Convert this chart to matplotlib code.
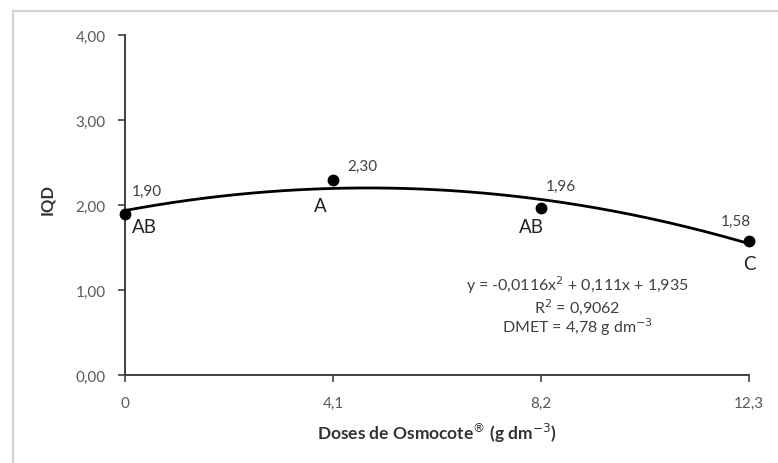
import matplotlib
matplotlib.use("Agg")
import matplotlib.pyplot as plt
import numpy as np
from matplotlib.patches import Rectangle

doses = [0, 4.1, 8.2, 12.3]
iqd = [1.90, 2.30, 1.96, 1.58]
value_labels = ["1,90", "2,30", "1,96", "1,58"]
letters = ["AB", "A", "AB", "C"]
coef = [-0.0116, 0.111, 1.935]
xtick_labels = ["0", "4,1", "8,2", "12,3"]
yticks = [0, 1, 2, 3, 4]
ytick_labels = ["0,00", "1,00", "2,00", "3,00", "4,00"]

plt.rcParams['font.family'] = ['Lato', 'DejaVu Sans']

fig = plt.figure(figsize=(7.78, 4.64), dpi=100)
W, H = 778, 464
fig.patches.append(Rectangle((13 / W, -0.05), 1.1, 1 - 12 / H + 0.05, transform=fig.transFigure,
                             fill=False, edgecolor='#d4d4d4', linewidth=1.6))
ax = fig.add_axes([125 / W, 1 - 376 / H, 624 / W, 340 / H])

xs = np.linspace(0, 12.3, 200)
ax.plot(xs, np.polyval(coef, xs), color='black', linewidth=2.0, zorder=2)
ax.plot(doses, iqd, 'o', color='black', markersize=7.5, zorder=3, clip_on=False)

gray = '#404040'
# value labels: (dx, dy) in pixels of label anchor (ha, va bottom)
val_off = [(7, 16, 'left'), (14, 7, 'left'), (5, 16, 'left'), (-13, 13, 'center')]
for x, y, t, (dx, dy, ha) in zip(doses, iqd, value_labels, val_off):
    ax.annotate(t, (x, y), xytext=(dx, dy), textcoords='offset pixels',
                fontsize=11, color=gray, ha=ha, va='bottom')
let_off = [(7, -5, 'left'), (-13, -18, 'center'), (-10, -10, 'center'), (0, -14, 'center')]
for x, y, t, (dx, dy, ha) in zip(doses, iqd, letters, let_off):
    ax.annotate(t, (x, y), xytext=(dx, dy), textcoords='offset pixels',
                fontsize=13.5, color='#222222', ha=ha, va='top')

eq_lines = ["y = -0,0116x$^2$ + 0,111x + 1,935", "R$^2$ = 0,9062", "DMET = 4,78 g dm$^{-3}$"]
eq_y = [285, 307, 327]
for line, py in zip(eq_lines, eq_y):
    ax.text(577 / W, 1 - py / H, line, transform=fig.transFigure, ha='center', va='center',
            fontsize=11.5, color=gray)

ax.set_xlim(0, 12.3)
ax.set_ylim(0, 4)
ax.set_xticks(doses)
ax.set_xticklabels(xtick_labels)
ax.set_yticks(yticks)
ax.set_yticklabels(ytick_labels)
ax.tick_params(axis='both', direction='out', length=5, width=1.2, color='#404040',
               labelsize=11, labelcolor='#595959')
ax.tick_params(axis='y', pad=9)
ax.tick_params(axis='x', pad=10)
for s in ['top', 'right']:
    ax.spines[s].set_visible(False)
for s in ['left', 'bottom']:
    ax.spines[s].set_color('#404040')
    ax.spines[s].set_linewidth(1.4)

fig.text(47 / W, 1 - 200 / H, "IQD", rotation=90, fontsize=12, fontweight='bold',
         color='#333333', ha='center', va='center')
fig.text(437 / W, 1 - 433 / H, "Doses de Osmocote$^{®}$ (g dm$^{-3}$)", fontsize=12.5,
         fontweight='bold', color='#333333', ha='center', va='center')

fig.savefig("out.png", dpi=100)
